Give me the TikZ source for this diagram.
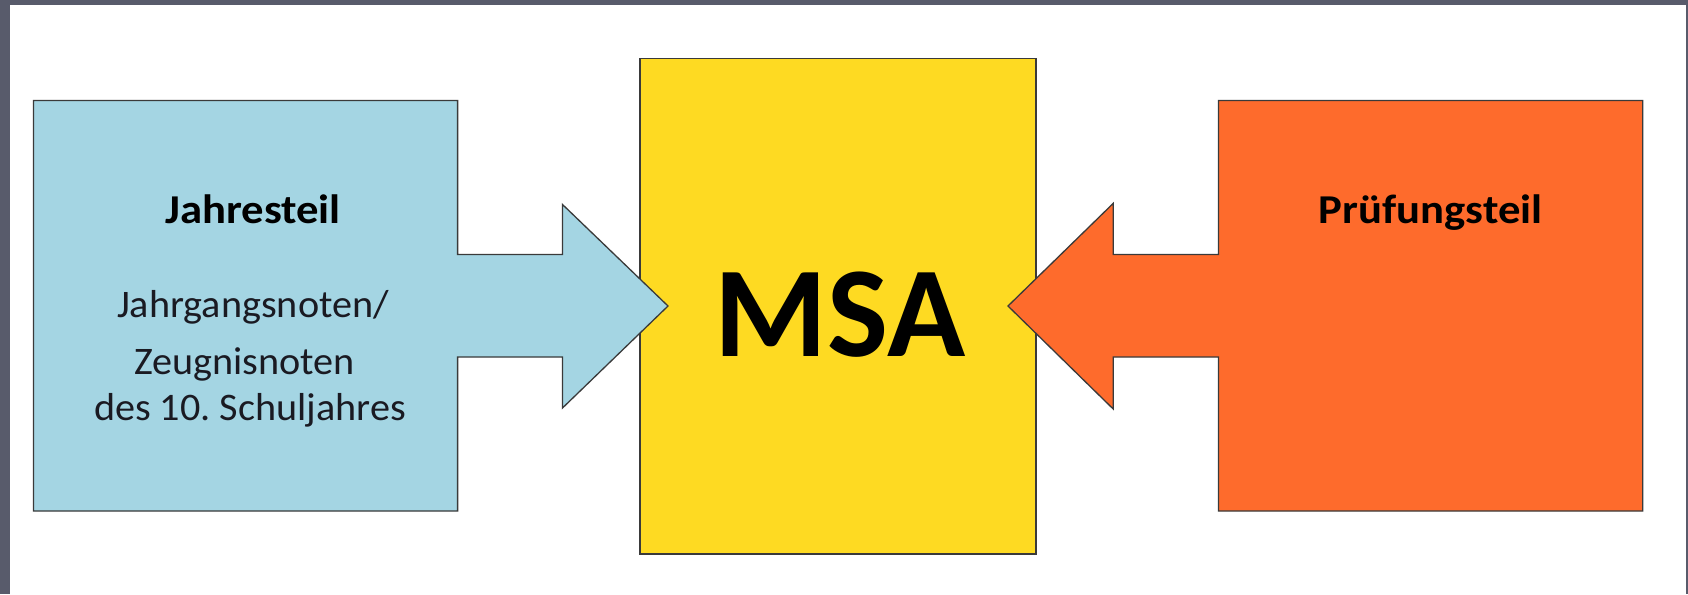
\documentclass[tikz,border=0pt]{standalone}
\usepackage{fontspec}
\usepackage{graphicx}
\setmainfont{Carlito}
\definecolor{framegray}{HTML}{585B6B}
\definecolor{boxblue}{HTML}{A4D5E3}
\definecolor{boxyellow}{HTML}{FEDA22}
\definecolor{boxorange}{HTML}{FE6B2C}
\definecolor{edgegray}{HTML}{3A3A3A}
\definecolor{txt}{HTML}{1A1A22}
\newcommand{\wideb}[1]{\scalebox{1.09}[1]{#1}}
\newcommand{\wider}[1]{\scalebox{1.03}[1]{#1}}
\tikzset{
  shapeedge/.style={draw=edgegray, line width=1.3pt, line join=miter},
  headtext/.style={anchor=base, inner sep=0pt, font=\bfseries\fontsize{41}{41}\selectfont, text=black},
  bodytext/.style={anchor=base, inner sep=0pt, font=\fontsize{39}{39}\selectfont, text=txt},
}
\begin{document}
\begin{tikzpicture}[x=1pt,y=-1pt]
\useasboundingbox (0,0) rectangle (1688,594);
% frame
\fill[framegray] (0,0) rectangle (1688,594);
\fill[white] (10,5.5) rectangle (1685.5,594);
% centre box
\node[shapeedge, fill=boxyellow, rectangle, minimum width=396pt, minimum height=495.3pt, inner sep=0pt] (msabox) at (838,306.35) {};
% left callout (blue)
\coordinate (lbtl) at (33.5,100.4);
\coordinate (lbtr) at (457.6,100.4);
\coordinate (lbbr) at (457.6,511);
\coordinate (lbbl) at (33.5,511);
\coordinate (ltip) at (668,306);
\draw[shapeedge, fill=boxblue]
  (lbtl) -- (lbtr) -- (457.6,254.5) -- (562.5,254.5) -- (562.5,204.5) -- (ltip)
  -- (562.5,408) -- (562.5,357) -- (457.6,357) -- (lbbr) -- (lbbl) -- cycle;
% right callout (orange)
\coordinate (rbtl) at (1218.5,100.4);
\coordinate (rbtr) at (1642.8,100.4);
\coordinate (rbbr) at (1642.8,511);
\coordinate (rbbl) at (1218.5,511);
\coordinate (rtip) at (1008,306);
\draw[shapeedge, fill=boxorange]
  (rbtr) -- (rbtl) -- (1218.5,254.5) -- (1113.2,254.5) -- (1113.2,203.4) -- (rtip)
  -- (1113.2,409) -- (1113.2,357) -- (1218.5,357) -- (rbbl) -- (rbbr) -- cycle;
% texts
\node[anchor=base, inner sep=0pt, font=\bfseries\fontsize{129}{129}\selectfont, text=black] (msa) at (840,356) {MSA};
\node[headtext] (jt) at (253,223.3) {\wideb{Jahresteil}};
\node[bodytext] (l1) at (253,317.3) {\wider{Jahrgangsnoten/}};
\node[bodytext] (l2) at (244.5,374) {\wider{Zeugnisnoten}};
\node[bodytext] (l3) at (250,420.7) {\wider{des 10.\ Schuljahres}};
\node[headtext] (pt) at (1430.7,223.3) {\wideb{Prüfungsteil}};
\end{tikzpicture}
\end{document}
